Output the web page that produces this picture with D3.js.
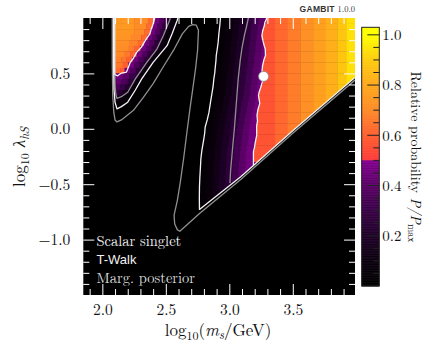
<!DOCTYPE html>
<html><head><meta charset="utf-8">
<script src="https://cdn.jsdelivr.net/npm/d3@7"></script>
<style>body{margin:0;background:#fff}svg{display:block}</style>
</head><body>
<svg id="c" width="434" height="353"></svg>
<script>
// ---------------- data ----------------
const xDomain = [1.85, 3.99];
const yDomain = [-1.5, 1.0];
const xTicksMajor = [2.0, 2.5, 3.0, 3.5];
const xTicksMinor = [1.9, 2.1, 2.2, 2.3, 2.4, 2.6, 2.7, 2.8, 2.9, 3.1, 3.2, 3.3, 3.4, 3.6, 3.7, 3.8, 3.9];
const yTicksMajor = [-1.0, -0.5, 0.0, 0.5];
const yTicksMinor = [-1.4, -1.3, -1.2, -1.1, -0.9, -0.8, -0.7, -0.6, -0.4, -0.3, -0.2, -0.1, 0.1, 0.2, 0.3, 0.4, 0.6, 0.7, 0.8, 0.9];
const cbTicksMajor = [0.2, 0.4, 0.6, 0.8, 1.0];
const cbTicksMinor = [0.05, 0.1, 0.15, 0.25, 0.3, 0.35, 0.45, 0.5, 0.55, 0.65, 0.7, 0.75, 0.85, 0.9, 0.95];
const cbDomain = [0, 1.03];

// colour map (relative probability -> colour)
const cmapStops  = [0, 0.1, 0.2, 0.3, 0.4, 0.5, 0.5001, 0.6, 0.7, 0.8, 0.9, 1.0];
const cmapColors = ["#000000", "#0b000e", "#1e0028", "#380046", "#5a0066", "#82008e",
                    "#ff3a3a", "#ff5f30", "#ff8a28", "#ffa81c", "#ffcc0e", "#ffff00"];

// heat-map rows (centre y, height 0.05)
const rowH = 0.05;
const rowY = [0.975, 0.925, 0.875, 0.825, 0.775, 0.725, 0.675, 0.625, 0.575, 0.525,
              0.475, 0.425, 0.375, 0.325, 0.275, 0.225, 0.175, 0.125, 0.075, 0.025,
              -0.025, -0.075, -0.125, -0.175, -0.225, -0.275, -0.325, -0.375, -0.425, -0.475,
              -0.525, -0.575, -0.625, -0.675, -0.725, -0.775];
// left (resonance) wedge: [x start, P/Pmax] per row
const wedgeSegs = [
  [[2.10,0.75],[2.25,0.71],[2.358,0.63],[2.408,0.46],[2.448,0.37],[2.488,0.27],[2.528,0.13],[2.558,0.07],[2.588,0.03],[2.648,0]],
  [[2.10,0.75],[2.25,0.71],[2.345,0.63],[2.395,0.46],[2.433,0.37],[2.472,0.27],[2.51,0.13],[2.54,0.07],[2.571,0.03],[2.631,0]],
  [[2.10,0.74],[2.25,0.70],[2.329,0.63],[2.379,0.46],[2.416,0.37],[2.453,0.27],[2.49,0.13],[2.521,0.07],[2.553,0.03],[2.613,0]],
  [[2.10,0.73],[2.23,0.69],[2.306,0.62],[2.356,0.46],[2.394,0.37],[2.432,0.27],[2.47,0.13],[2.503,0.07],[2.536,0.03],[2.596,0]],
  [[2.10,0.72],[2.21,0.68],[2.279,0.62],[2.329,0.46],[2.37,0.37],[2.41,0.27],[2.451,0.13],[2.485,0.07],[2.519,0.03],[2.579,0]],
  [[2.10,0.71],[2.20,0.67],[2.25,0.61],[2.30,0.46],[2.344,0.37],[2.388,0.27],[2.432,0.13],[2.462,0.07],[2.492,0.03],[2.552,0]],
  [[2.10,0.70],[2.17,0.66],[2.219,0.61],[2.269,0.46],[2.313,0.37],[2.356,0.27],[2.40,0.13],[2.428,0.07],[2.455,0.03],[2.515,0]],
  [[2.10,0.68],[2.15,0.65],[2.19,0.60],[2.237,0.46],[2.28,0.37],[2.324,0.27],[2.367,0.13],[2.393,0.07],[2.418,0.03],[2.478,0]],
  [[2.10,0.66],[2.16,0.60],[2.205,0.46],[2.248,0.37],[2.292,0.27],[2.335,0.13],[2.36,0.07],[2.385,0.03],[2.445,0]],
  [[2.10,0.62],[2.14,0.59],[2.175,0.46],[2.218,0.37],[2.262,0.27],[2.305,0.13],[2.33,0.07],[2.355,0.03],[2.415,0]],
  [[2.10,0.46],[2.16,0.40],[2.21,0.30],[2.275,0.13],[2.30,0.07],[2.325,0.03],[2.385,0]],
  [[2.10,0.42],[2.15,0.36],[2.20,0.26],[2.248,0.12],[2.272,0.06],[2.297,0.03],[2.357,0]],
  [[2.10,0.36],[2.14,0.30],[2.18,0.22],[2.222,0.11],[2.246,0.06],[2.271,0.03],[2.331,0]],
  [[2.10,0.28],[2.13,0.23],[2.16,0.17],[2.193,0.10],[2.22,0.05],[2.245,0.02],[2.30,0]],
  [[2.10,0.15],[2.127,0.08],[2.17,0.05],[2.218,0.02],[2.27,0]],
  [[2.10,0.05],[2.18,0.02],[2.23,0]],
  [],[],[],[],[],[],[],[],[],[],[],[],[],[],[],[],[],[],[],[]
];
// middle band: x where it starts (per row) and the purple profile across it
const bandStart = [2.930,2.925,2.920,2.915,2.910,2.905,2.901,2.896,2.891,2.885,
                   2.880,2.875,2.869,2.864,2.856,2.847,2.838,2.829,2.820,2.812,
                   2.805,2.799,2.793,2.786,2.782,2.779,2.776,2.774,2.771,2.768,
                   2.765,2.765,2.765,2.765,2.765,2.760];
const bandDx = [-0.04, 0.00, 0.05, 0.10, 0.15, 0.20, 0.25, 0.30, 0.35];
const bandP  = [0.01, 0.04, 0.08, 0.13, 0.19, 0.26, 0.33, 0.40, 0.46];
// right region: x of the purple/orange edge per row and the orange profile
const orangeEdge = [3.290,3.275,3.262,3.255,3.270,3.282,3.285,3.272,3.265,3.258,
                    3.255,3.262,3.248,3.235,3.232,3.240,3.225,3.218,3.222,3.215,
                    3.218,3.212,3.205,3.198,3.190,3.190,null,null,null,null,
                    null,null,null,null,null,null];
const orangeStartP = 0.57;
const rightX = [3.36, 3.46, 3.56, 3.66, 3.76, 3.85, 3.92];
const rightP = [0.62, 0.67, 0.72, 0.77, 0.82, 0.88, 0.94];

// lower kinematic boundary (black below)
const killX = [2.40, 2.60, 2.765, 3.09, 3.50, 3.99];
const killY = [-1.08, -0.88, -0.73, -0.43, -0.015, 0.465];

// credible-region contours [x, y]
const greyOuter = [[2.078,1.0],[2.078,0.6],[2.082,0.3],[2.09,0.15],[2.10,0.08],[2.115,0.062],[2.15,0.08],[2.245,0.167],[2.32,0.28],[2.40,0.407],[2.48,0.56],[2.56,0.707],[2.63,0.857],[2.68,0.925],[2.71,0.94],[2.74,0.935],[2.757,0.89],[2.75,0.707],[2.735,0.55],[2.718,0.407],[2.69,0.18],[2.665,-0.04],[2.64,-0.27],[2.613,-0.49],[2.59,-0.65],[2.565,-0.78],[2.57,-0.86],[2.59,-0.91],[2.61,-0.925],[2.77,-0.76],[3.09,-0.458],[3.50,-0.04],[3.99,0.44]];
const whiteWedge = [[2.088,1.0],[2.088,0.6],[2.092,0.35],[2.10,0.24],[2.115,0.18],[2.15,0.2],[2.2,0.24],[2.26,0.35],[2.31,0.45],[2.4,0.6],[2.51,0.75],[2.55,0.86],[2.59,0.98],[2.595,1.0]];
const whiteBand = [[2.93,1.0],[2.925,0.93],[2.918,0.86],[2.912,0.78],[2.905,0.72],[2.897,0.66],[2.895,0.617],[2.889,0.55],[2.885,0.5],[2.878,0.45],[2.872,0.38],[2.863,0.317],[2.852,0.24],[2.84,0.15],[2.826,0.08],[2.81,0.016],[2.806,-0.04],[2.798,-0.1],[2.784,-0.194],[2.776,-0.27],[2.772,-0.36],[2.768,-0.44],[2.765,-0.524],[2.764,-0.63],[2.765,-0.728],[3.09,-0.432],[3.50,-0.017],[3.99,0.463]];
const greyWedge = [[2.095,1.0],[2.097,0.6],[2.10,0.4],[2.106,0.31],[2.115,0.275],[2.15,0.29],[2.2,0.33],[2.26,0.45],[2.35,0.6],[2.43,0.72],[2.48,0.84],[2.53,0.98],[2.535,1.0]];
const greyBand = [[3.15,1.0],[3.135,0.92],[3.12,0.85],[3.10,0.73],[3.086,0.617],[3.07,0.45],[3.06,0.3],[3.05,0.15],[3.04,0.0],[3.03,-0.12],[3.02,-0.25],[3.01,-0.38],[3.005,-0.49]];
const orangeWedgeEdge = [[2.098,1.0],[2.098,0.49],[2.12,0.478],[2.145,0.5],[2.19,0.512],[2.21,0.57],[2.22,0.60],[2.242,0.632],[2.27,0.69],[2.308,0.737],[2.34,0.8],[2.374,0.857],[2.385,0.9],[2.395,0.93],[2.413,1.0]];
const orangeBandEdge = [[3.296,1.0],[3.28,0.96],[3.275,0.925],[3.262,0.88],[3.257,0.842],[3.268,0.78],[3.283,0.72],[3.285,0.662],[3.272,0.62],[3.262,0.57],[3.258,0.52],[3.257,0.482],[3.262,0.43],[3.248,0.375],[3.235,0.33],[3.23,0.30],[3.24,0.23],[3.225,0.17],[3.218,0.122],[3.222,0.07],[3.215,0.02],[3.216,-0.059],[3.205,-0.12],[3.198,-0.17],[3.19,-0.209],[3.19,-0.27],[3.19,-0.33]];
const bestFit = [3.27, 0.473];

const annotations = ["Scalar singlet", "T-Walk", "Marg. posterior"];

// ---------------- drawing ----------------
const serif = "'Latin Modern Roman','Liberation Serif','DejaVu Serif',serif";
const sans = "'Liberation Sans','DejaVu Sans',sans-serif";
const P = {left: 83.3, right: 355, top: 18, bottom: 295};
const x = d3.scaleLinear().domain(xDomain).range([P.left, P.right]);
const y = d3.scaleLinear().domain(yDomain).range([P.bottom, P.top]);
const color = d3.scaleLinear().domain(cmapStops).range(cmapColors).clamp(true);

const svg = d3.select("#c");
const defs = svg.append("defs");
defs.append("clipPath").attr("id", "plotClip").append("rect")
  .attr("x", P.left).attr("y", P.top).attr("width", P.right - P.left).attr("height", P.bottom - P.top);
const abovePts = [[xDomain[0], yDomain[1]], [xDomain[1], yDomain[1]]];
for (let i = killX.length - 1; i >= 0; i--) abovePts.push([killX[i], killY[i]]);
abovePts.push([xDomain[0], yDomain[0]]);
defs.append("clipPath").attr("id", "aboveKill").append("polygon")
  .attr("points", abovePts.map(p => x(p[0]) + "," + y(p[1])).join(" "));

svg.append("rect").attr("x", P.left).attr("y", P.top).attr("width", P.right - P.left)
  .attr("height", P.bottom - P.top).attr("fill", "#000");

function buildRow(i) {
  const segs = [[xDomain[0], 0]].concat(wedgeSegs[i]);
  const xw = bandStart[i], xo = orangeEdge[i];
  bandDx.forEach((d, j) => { const xs = xw + d; if (xo == null || xs < xo) segs.push([xs, bandP[j]]); });
  if (xo != null) {
    segs.push([xo, orangeStartP]);
    rightX.forEach((rx, j) => { if (rx > xo) segs.push([rx, rightP[j]]); });
  }
  segs.sort((a, b) => a[0] - b[0]);
  return segs;
}

const cells = svg.append("g").attr("clip-path", "url(#plotClip)")
  .append("g").attr("clip-path", "url(#aboveKill)");
rowY.forEach((yc, i) => {
  const segs = buildRow(i);
  segs.forEach((s, k) => {
    const x0 = s[0], v = s[1];
    const x1 = k + 1 < segs.length ? segs[k + 1][0] : xDomain[1];
    if (v <= 0 || x1 <= x0) return;
    cells.append("rect")
      .attr("x", x(x0)).attr("width", x(x1) - x(x0) + 0.4)
      .attr("y", y(yc + rowH / 2)).attr("height", y(yc - rowH / 2) - y(yc + rowH / 2) + 0.4)
      .attr("fill", color(v));
  });
});

// contours
const line = d3.line().x(d => x(d[0])).y(d => y(d[1]));
const cg = svg.append("g").attr("clip-path", "url(#plotClip)").attr("fill", "none")
  .attr("stroke-linejoin", "round");
[greyOuter, greyWedge, greyBand].forEach(c =>
  cg.append("path").attr("d", line(c)).attr("stroke", "#8f8f8f").attr("stroke-width", 1.3));
[whiteWedge, whiteBand, orangeWedgeEdge, orangeBandEdge].forEach(c =>
  cg.append("path").attr("d", line(c)).attr("stroke", "#f4f4f4").attr("stroke-width", 1.3));

// best-fit point
svg.append("circle").attr("cx", x(bestFit[0])).attr("cy", y(bestFit[1])).attr("r", 5)
  .attr("fill", "#fff").attr("stroke", "#888").attr("stroke-width", 0.8);

// annotations
const annY = [246, 264, 283];
annotations.forEach((t, i) => {
  svg.append("text").attr("x", 96.5).attr("y", annY[i]).text(t)
    .attr("font-family", i === 1 ? sans : serif).attr("font-size", i === 1 ? 13 : 14.5)
    .attr("fill", i === 2 ? "#dcdcdc" : "#f2f2f2");
});

// axes
function styleAxis(g, labels) {
  g.select(".domain").remove();
  g.selectAll(".tick line").attr("stroke", "#fff").attr("stroke-width", 1);
  g.selectAll(".tick text").attr("font-family", serif).attr("font-size", 15.5).attr("fill", "#111");
  if (!labels) g.selectAll(".tick text").remove();
}
const fmt = d3.format(".1f");
svg.append("g").attr("transform", `translate(0,${P.bottom})`)
  .call(d3.axisBottom(x).tickValues(xTicksMajor).tickSize(-11).tickPadding(9).tickFormat(fmt)).call(g => styleAxis(g, true));
svg.append("g").attr("transform", `translate(0,${P.bottom})`)
  .call(d3.axisBottom(x).tickValues(xTicksMinor).tickSize(-6).tickFormat("")).call(g => styleAxis(g, false));
svg.append("g").attr("transform", `translate(0,${P.top})`)
  .call(d3.axisTop(x).tickValues(xTicksMajor).tickSize(-11).tickFormat("")).call(g => styleAxis(g, false));
svg.append("g").attr("transform", `translate(0,${P.top})`)
  .call(d3.axisTop(x).tickValues(xTicksMinor).tickSize(-6).tickFormat("")).call(g => styleAxis(g, false));
svg.append("g").attr("transform", `translate(${P.left},0)`)
  .call(d3.axisLeft(y).tickValues(yTicksMajor).tickSize(-11).tickPadding(13).tickFormat(fmt)).call(g => styleAxis(g, true));
svg.append("g").attr("transform", `translate(${P.left},0)`)
  .call(d3.axisLeft(y).tickValues(yTicksMinor).tickSize(-6).tickFormat("")).call(g => styleAxis(g, false));
svg.append("g").attr("transform", `translate(${P.right},0)`)
  .call(d3.axisRight(y).tickValues(yTicksMajor).tickSize(-11).tickFormat("")).call(g => styleAxis(g, false));
svg.append("g").attr("transform", `translate(${P.right},0)`)
  .call(d3.axisRight(y).tickValues(yTicksMinor).tickSize(-6).tickFormat("")).call(g => styleAxis(g, false));

// axis titles
const xt = svg.append("text").attr("x", 218).attr("y", 336).attr("text-anchor", "middle")
  .attr("font-family", serif).attr("font-size", 17).attr("fill", "#111");
xt.append("tspan").text("log");
xt.append("tspan").attr("dy", 4).attr("font-size", 12).text("10");
xt.append("tspan").attr("dy", -4).text("(");
xt.append("tspan").attr("font-style", "italic").text("m");
xt.append("tspan").attr("dy", 3).attr("font-size", 12).attr("font-style", "italic").text("s");
xt.append("tspan").attr("dy", -3).text("/GeV)");

const yt = svg.append("text").attr("transform", "translate(25,157) rotate(-90)").attr("text-anchor", "middle")
  .attr("font-family", serif).attr("font-size", 17).attr("fill", "#111");
yt.append("tspan").text("log");
yt.append("tspan").attr("dy", 4).attr("font-size", 12).text("10");
yt.append("tspan").attr("dy", -4).attr("font-style", "italic").text(" λ");
yt.append("tspan").attr("dy", 4).attr("font-size", 12).attr("font-style", "italic").text("hS");

// colour bar
const cb = {x0: 361.7, x1: 379.3};
const cby = d3.scaleLinear().domain(cbDomain).range([286, 27.3]);
const cbSteps = d3.range(cbDomain[0], cbDomain[1], 0.0025);
svg.append("g").selectAll("rect").data(cbSteps).join("rect")
  .attr("x", cb.x0).attr("width", cb.x1 - cb.x0)
  .attr("y", d => cby(d + 0.0025)).attr("height", d => cby(d) - cby(d + 0.0025) + 0.5)
  .attr("fill", d => color(d));
svg.append("g").selectAll("line").data(cbTicksMinor).join("line")
  .attr("x1", cb.x1).attr("x2", cb.x1 - 6).attr("y1", d => cby(d)).attr("y2", d => cby(d))
  .attr("stroke", "#222").attr("stroke-width", 1);
svg.append("g").selectAll("line").data(cbTicksMajor).join("line")
  .attr("x1", cb.x1).attr("x2", cb.x1 - 12).attr("y1", d => cby(d)).attr("y2", d => cby(d))
  .attr("stroke", "#222").attr("stroke-width", 1);
svg.append("rect").attr("x", cb.x0).attr("y", 27.3).attr("width", cb.x1 - cb.x0).attr("height", 286 - 27.3)
  .attr("fill", "none").attr("stroke", "#222").attr("stroke-width", 1);
svg.append("g").attr("transform", `translate(${cb.x1},0)`)
  .call(d3.axisRight(cby).tickValues(cbTicksMajor).tickSize(0).tickPadding(3).tickFormat(fmt))
  .call(g => { g.select(".domain").remove();
    g.selectAll("text").attr("font-family", serif).attr("font-size", 15).attr("fill", "#111"); });

const ct = svg.append("text").attr("transform", "translate(411,157) rotate(90)").attr("text-anchor", "middle")
  .attr("font-family", serif).attr("font-size", 14).attr("fill", "#111");
ct.append("tspan").text("Relative probability ");
ct.append("tspan").attr("font-style", "italic").text("P/P");
ct.append("tspan").attr("dy", 3).attr("font-size", 10).text("max");

// GAMBIT tag
const gt = svg.append("text").attr("x", 355).attr("y", 11.5).attr("text-anchor", "end")
  .attr("font-size", 8.5).attr("fill", "#333");
gt.append("tspan").attr("font-family", sans).attr("font-weight", "bold").attr("letter-spacing", 0.3).text("GAMBIT ");
gt.append("tspan").attr("font-family", serif).text("1.0.0");
</script>
</body></html>
